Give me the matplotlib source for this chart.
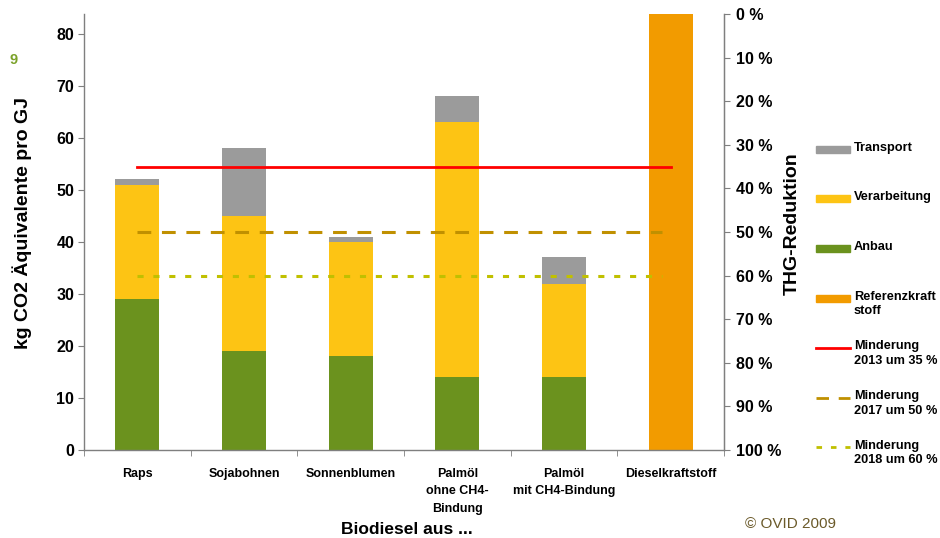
import matplotlib
matplotlib.use("Agg")
import matplotlib.pyplot as plt
from matplotlib.patches import Rectangle
from matplotlib.lines import Line2D
import numpy as np

plt.rcParams['font.family'] = ['Liberation Sans', 'DejaVu Sans']

categories = ["Raps", "Sojabohnen", "Sonnenblumen", "Palmöl\nohne CH4-\nBindung",
              "Palmöl\nmit CH4-Bindung", "Dieselkraftstoff"]
anbau = [29, 19, 18, 14, 14, 0]
verarbeitung = [22, 26, 22, 49, 18, 0]
transport = [1, 13, 1, 5, 5, 0]
referenz = [0, 0, 0, 0, 0, 83.8]
reference_value = 83.8
reductions = [35, 50, 60]
reduction_labels = ["Minderung\n2013 um 35 %", "Minderung\n2017 um 50 %", "Minderung\n2018 um 60 %"]
left_ticks = [0, 10, 20, 30, 40, 50, 60, 70, 80]
right_ticks = [0, 10, 20, 30, 40, 50, 60, 70, 80, 90, 100]

c_anbau = "#6B921E"
c_verarb = "#FDC414"
c_transport = "#9B9B9B"
c_ref = "#F29B00"
c_red = "#FF0000"
c_dash = "#C09000"
c_dot = "#C0C000"
spine_c = "#7F7F7F"

fig = plt.figure(figsize=(9.4, 5.38), dpi=100)
ax = fig.add_axes([84/940, 88/538, 640/940, 436/538])

x = np.arange(len(categories))
w = 0.41
anbau_a = np.array(anbau)
verarb_a = np.array(verarbeitung)
ax.bar(x, anbau, w, color=c_anbau, zorder=2)
ax.bar(x, verarbeitung, w, bottom=anbau_a, color=c_verarb, zorder=2)
ax.bar(x, transport, w, bottom=anbau_a + verarb_a, color=c_transport, zorder=2)
ax.bar(x, referenz, w, color=c_ref, zorder=2)

# Reduction targets relative to fossil diesel
lvl = [reference_value * (1 - r / 100) for r in reductions]
ax.plot([x[0], x[-1]], [lvl[0]] * 2, color=c_red, lw=2, zorder=3)
ax.plot([x[0], x[-1] - 0.08], [lvl[1]] * 2, color=c_dash, lw=2.2,
        dashes=(4.5, 3.5), zorder=3)
ax.plot([x[0], x[-1] - 0.08], [lvl[2]] * 2, color=c_dot, lw=2.2,
        dashes=(2, 3.2), zorder=3)

ax.set_xlim(-0.5, len(categories) - 0.5)
ax.set_ylim(0, reference_value)
ax.set_yticks(left_ticks)
ax.set_yticklabels([str(t) for t in left_ticks], fontsize=11.5, fontweight='bold')
ax.set_xticks(x)
ax.set_xticklabels(categories, fontsize=9, fontweight='bold',
                   family=['Liberation Sans Narrow', 'Liberation Sans'], linespacing=1.6)
ax.set_xticks(np.arange(-0.5, len(categories)), minor=True)
ax.tick_params(axis='x', which='major', length=0, pad=13)
ax.tick_params(axis='x', which='minor', length=4, color=spine_c)
ax.tick_params(axis='y', length=4, color=spine_c, pad=3)

for s in ['top']:
    ax.spines[s].set_visible(False)
for s in ['left', 'bottom', 'right']:
    ax.spines[s].set_color(spine_c)
    ax.spines[s].set_linewidth(1.0)

ax.set_ylabel("kg CO2 Äquivalente pro GJ", fontsize=14, fontweight='bold')
ax.yaxis.set_label_coords(-52/640, 0.5 + 0.02)
ax.set_xlabel("Biodiesel aus ...", fontsize=12.5, fontweight='bold', va='center')
ax.xaxis.set_label_coords(0.505, -80/436)

ax2 = ax.twinx()
ax2.set_ylim(100, 0)
ax2.set_yticks(right_ticks)
ax2.set_yticklabels([f"{t} %" for t in right_ticks], fontsize=11.5, fontweight='bold')
ax2.tick_params(axis='y', length=4, color=spine_c, pad=5)
for s in ['top', 'left', 'bottom']:
    ax2.spines[s].set_visible(False)
ax2.spines['right'].set_color(spine_c)
ax2.set_ylabel("THG-Reduktion", fontsize=14, fontweight='bold')
ax2.yaxis.set_label_coords(1 + 60/640, 0.5 + 0.02)

# Legend drawn in figure pixels
entries = [("patch", c_transport, None, "Transport"),
           ("patch", c_verarb, None, "Verarbeitung"),
           ("patch", c_anbau, None, "Anbau"),
           ("patch", c_ref, None, "Referenzkraft\nstoff"),
           ("line", c_red, None, reduction_labels[0]),
           ("line", c_dash, (4.5, 3.5), reduction_labels[1]),
           ("line", c_dot, (2, 3.2), reduction_labels[2])]
H = 538.0
for i, (kind, col, dsh, lab) in enumerate(entries):
    yc = 149 + i * 49.7
    if kind == "patch":
        fig.add_artist(Rectangle((816/940, (H - yc - 3.5)/H), 34/940, 7/H,
                                 color=col, transform=fig.transFigure))
    else:
        ln = Line2D([816/940, 850/940], [(H - yc)/H] * 2, color=col, lw=2,
                    transform=fig.transFigure)
        if dsh:
            ln.set_dashes(dsh)
        fig.add_artist(ln)
    fig.text(854/940, (H - yc + 7.5)/H, lab, fontsize=9.2, fontweight='bold',
             va='top', ha='left', linespacing=1.3)

fig.text(9/940, (H - 60)/H, "9", color="#7BA22A", fontsize=10.5, fontweight='bold',
         va='center', ha='left')
fig.text(745/940, (H - 524)/H, "© OVID 2009", color="#6B5A2A", fontsize=11,
         va='center', ha='left')

fig.savefig("out.png", dpi=100)
